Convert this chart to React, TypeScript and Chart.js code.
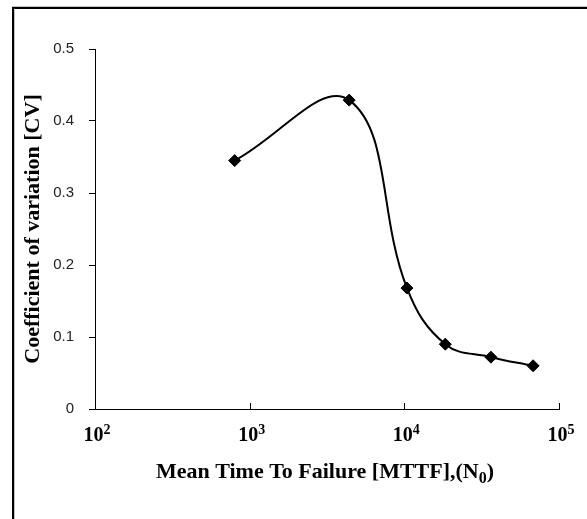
import React, { useEffect, useRef } from 'react';
import { Chart, registerables } from 'chart.js';

Chart.register(...registerables);

// ---- data ----
const MTTF = [800, 4400, 10400, 18400, 36300, 68000];
const CV = [0.345, 0.429, 0.168, 0.09, 0.072, 0.06];
const X_TICKS = [100, 1000, 10000, 100000];
const X_TICK_BASE = '10';
const X_TICK_EXPONENTS = ['2', '3', '4', '5'];
const Y_TICKS = [0, 0.1, 0.2, 0.3, 0.4, 0.5];
const Y_TICK_LABELS = ['0', '0.1', '0.2', '0.3', '0.4', '0.5'];
const X_TITLE_MAIN = 'Mean Time To Failure [MTTF],(N';
const X_TITLE_SUB = '0';
const X_TITLE_END = ')';
const Y_TITLE = 'Coefficient of variation [CV]';

const SERIF = "'Liberation Serif', 'Times New Roman', serif";
const SANS = "'Liberation Sans', Arial, sans-serif";

const decorPlugin = {
  id: 'decor',
  beforeDraw(chart: any) {
    const { ctx, width, height } = chart;
    ctx.save();
    ctx.fillStyle = '#ffffff';
    ctx.fillRect(0, 0, width, height);
    // frame (top and left edges)
    ctx.fillStyle = '#c0c0c0';
    ctx.fillRect(12, 6, width - 12, 1);
    ctx.fillRect(14, 10, 1, height - 10);
    ctx.fillStyle = '#000000';
    ctx.fillRect(12, 7, width - 12, 2);
    ctx.fillRect(12, 7, 2, height - 7);
    ctx.restore();
  },
  afterDraw(chart: any) {
    const { ctx, chartArea } = chart;
    const xs = chart.scales.x;
    ctx.save();
    // inward x ticks
    ctx.strokeStyle = '#000000';
    ctx.lineWidth = 1;
    X_TICKS.forEach((v) => {
      const x = Math.round(xs.getPixelForValue(v)) + 0.5;
      ctx.beginPath();
      ctx.moveTo(x, chartArea.bottom);
      ctx.lineTo(x, chartArea.bottom - 6);
      ctx.stroke();
    });
    // x tick labels with superscripts
    ctx.fillStyle = '#000000';
    ctx.textBaseline = 'alphabetic';
    ctx.textAlign = 'left';
    const baseFont = `bold 20px ${SERIF}`;
    const supFont = `bold 14px ${SERIF}`;
    const labelBaseline = chartArea.bottom + 32;
    X_TICKS.forEach((v, i) => {
      const px = xs.getPixelForValue(v);
      ctx.font = baseFont;
      const w1 = ctx.measureText(X_TICK_BASE).width;
      ctx.font = supFont;
      const w2 = ctx.measureText(X_TICK_EXPONENTS[i]).width;
      const start = px + 2 - (w1 + w2) / 2;
      ctx.font = baseFont;
      ctx.fillText(X_TICK_BASE, start, labelBaseline);
      ctx.font = supFont;
      ctx.fillText(X_TICK_EXPONENTS[i], start + w1, labelBaseline - 7.5);
    });
    // x axis title with subscript
    const tFont = `bold 22px ${SERIF}`;
    const sFont = `bold 16px ${SERIF}`;
    ctx.font = tFont;
    const a = ctx.measureText(X_TITLE_MAIN).width;
    const c = ctx.measureText(X_TITLE_END).width;
    ctx.font = sFont;
    const b = ctx.measureText(X_TITLE_SUB).width;
    const cx = (chartArea.left + chartArea.right) / 2 - 2;
    const tBase = chartArea.bottom + 69;
    const x0 = cx - (a + b + c) / 2;
    ctx.font = tFont;
    ctx.fillText(X_TITLE_MAIN, x0, tBase);
    ctx.font = sFont;
    ctx.fillText(X_TITLE_SUB, x0 + a, tBase + 5);
    ctx.font = tFont;
    ctx.fillText(X_TITLE_END, x0 + a + b, tBase);
    ctx.restore();
  },
};

export default function App() {
  const canvasRef = useRef<HTMLCanvasElement | null>(null);

  useEffect(() => {
    const canvas = canvasRef.current;
    if (!canvas) return;
    const chart = new Chart(canvas, {
      type: 'line',
      data: {
        datasets: [
          {
            data: MTTF.map((x, i) => ({ x, y: CV[i] })),
            borderColor: '#000000',
            borderWidth: 2,
            tension: 0.4,
            fill: false,
            pointStyle: 'rectRot',
            pointRadius: 6,
            pointBackgroundColor: '#000000',
            pointBorderColor: '#000000',
            pointBorderWidth: 1,
          },
        ],
      },
      options: {
        animation: false,
        responsive: false,
        devicePixelRatio: 1,
        layout: { padding: { left: 0, top: 49, right: 28, bottom: 0 } },
        plugins: {
          legend: { display: false },
          tooltip: { enabled: false },
        },
        scales: {
          x: {
            type: 'logarithmic',
            min: 100,
            max: 100000,
            afterBuildTicks: (scale: any) => {
              scale.ticks = X_TICKS.map((v) => ({ value: v }));
            },
            afterFit: (scale: any) => {
              scale.height = 110;
            },
            grid: { display: false, drawOnChartArea: false, drawTicks: false },
            border: { display: true, color: '#000000', width: 1 },
            ticks: { display: false },
            title: { display: false },
          },
          y: {
            type: 'linear',
            min: 0,
            max: 0.5,
            afterBuildTicks: (scale: any) => {
              scale.ticks = Y_TICKS.map((v) => ({ value: v }));
            },
            afterFit: (scale: any) => {
              scale.width = 95;
            },
            grid: {
              display: true,
              drawOnChartArea: false,
              drawTicks: true,
              tickLength: 6,
              color: '#000000',
              lineWidth: 1,
            },
            border: { display: true, color: '#000000', width: 1 },
            ticks: {
              padding: 15,
              color: '#222222',
              font: { family: SANS, size: 15 },
              callback: (_v: any, i: number) => Y_TICK_LABELS[i],
            },
            title: {
              display: true,
              text: Y_TITLE,
              color: '#000000',
              font: { family: SERIF, size: 22, weight: 'bold' },
              padding: { top: 20, bottom: 0 },
            },
          },
        },
      },
      plugins: [decorPlugin],
    });
    return () => chart.destroy();
  }, []);

  return (
    <div style={{ position: 'absolute', left: 0, top: 0, width: 587, height: 519 }}>
      <canvas ref={canvasRef} width={587} height={519} style={{ display: 'block' }} />
    </div>
  );
}
